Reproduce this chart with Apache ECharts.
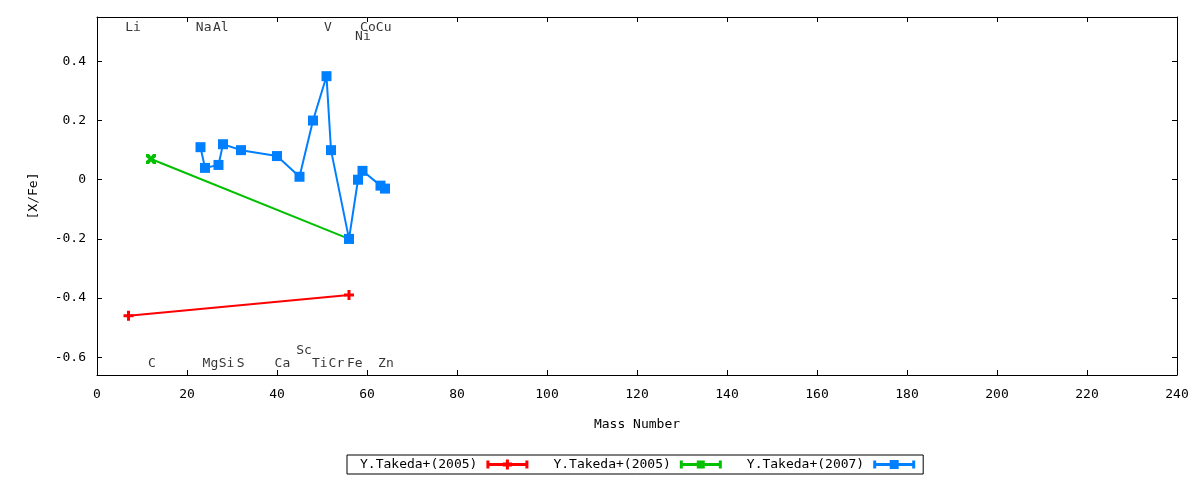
<!DOCTYPE html>
<html>
<head>
<meta charset="utf-8">
<script src="https://cdn.jsdelivr.net/npm/echarts@6/dist/echarts.min.js"></script>
<style>html,body{margin:0;padding:0;background:#fff;}#c{width:1200px;height:480px;}</style>
</head>
<body>
<div id="c"></div>
<script>
// Series data: [mass number, [X/Fe]]
const takeda2005aX = [7, 56];
const takeda2005aY = [-0.46, -0.39];
const takeda2005bX = [12, 56];
const takeda2005bY = [0.07, -0.20];
const takeda2007X = [23, 24, 27, 28, 32, 40, 45, 48, 51, 52, 56, 58, 59, 63, 64];
const takeda2007Y = [0.11, 0.04, 0.05, 0.12, 0.10, 0.08, 0.01, 0.20, 0.35, 0.10, -0.20, 0.00, 0.03, -0.02, -0.03];
const seriesNames = ['Y.Takeda+(2005)', 'Y.Takeda+(2005)', 'Y.Takeda+(2007)'];

// Element labels placed in the plot
const elemNames = ['Li', 'Na', 'Al', 'V', 'Co', 'Ni', 'Cu', 'C', 'Mg', 'Si', 'S', 'Ca', 'Sc', 'Ti', 'Cr', 'Fe', 'Zn'];
const elemX = [8.0, 23.7, 27.5, 51.3, 60.2, 59.1, 63.7, 12.2, 25.2, 28.8, 31.9, 41.2, 46.0, 49.5, 53.2, 57.3, 64.2];
const elemY = [0.515, 0.515, 0.515, 0.515, 0.515, 0.485, 0.515, -0.62, -0.62, -0.62, -0.62, -0.62, -0.578, -0.62, -0.62, -0.62, -0.62];

// Axis ticks
const yTicks = [-0.6, -0.4, -0.2, 0, 0.2, 0.4];

const FONT = 'DejaVu Sans Mono';
const zip = (xs, ys) => xs.map((x, i) => [x, ys[i]]);
const keys = ['s1', 's2', 's3'];
const nameMap = {s1: seriesNames[0], s2: seriesNames[1], s3: seriesNames[2]};

const plusSym = 'path://M3.5,0h3v3.5h3.5v3h-3.5v3.5h-3v-3.5h-3.5v-3h3.5z';
const xSym = 'path://M0,0L3,0L5,2.5L7,0L10,0L10,3L7.5,5L10,7L10,10L7,10L5,7.5L3,10L0,10L0,7L2.5,5L0,3Z';
const caps = 'M0,1h3v8h-3z M39,1h3v8h-3z M0,3.5h42v3h-42z ';
const iconRed = 'path://' + caps + 'M19.5,0h3v10h-3z M16.5,3h9v4h-9z';
const iconGreen = 'path://' + caps + 'M17,1h8v8h-8z';
const iconBlue = 'path://' + caps + 'M16.5,0.5h9v9h-9z';

const colors = ['#ff0000', '#00c000', '#0080ff'];
const symbols = [plusSym, xSym, 'rect'];
const icons = [iconRed, iconGreen, iconBlue];
const datas = [zip(takeda2005aX, takeda2005aY), zip(takeda2005bX, takeda2005bY), zip(takeda2007X, takeda2007Y)];

const lineSeries = keys.map((k, i) => ({
  name: k,
  type: 'line',
  data: datas[i],
  color: colors[i],
  symbol: symbols[i],
  symbolSize: 10,
  showAllSymbol: true,
  lineStyle: {width: 2, color: colors[i]},
  itemStyle: {color: colors[i]},
  animation: false,
  z: 3
}));

const labelSeries = {
  name: 'labels',
  type: 'scatter',
  symbolSize: 0,
  silent: true,
  animation: false,
  data: elemNames.map((n, i) => ({name: n, value: [elemX[i], elemY[i]]})),
  label: {
    show: true, position: 'inside', formatter: p => p.name,
    color: '#000', fontFamily: FONT, fontSize: 13
  },
  z: 4
};

const axisCommon = {
  min: 0, max: 240, interval: 20,
  axisLine: {show: true, onZero: false, lineStyle: {color: '#000', width: 1}},
  splitLine: {show: false}
};

const option = {
  backgroundColor: '#fff',
  animation: false,
  textStyle: {fontFamily: FONT},
  grid: {left: 97, right: 23, top: 17, bottom: 105, containLabel: false},
  legend: {
    data: keys.map((k, i) => ({name: k, icon: icons[i]})),
    formatter: n => nameMap[n],
    left: 347, top: 455,
    align: 'right',
    itemWidth: 42, itemHeight: 10, itemGap: 25,
    padding: [3, 8, 3, 13],
    borderColor: '#000', borderWidth: 1, borderRadius: 0,
    selectedMode: false,
    textStyle: {fontFamily: FONT, fontSize: 13, color: '#000', padding: [0, 4, 0, 0]}
  },
  xAxis: [
    Object.assign({}, axisCommon, {
      type: 'value', position: 'bottom',
      name: 'Mass Number', nameLocation: 'middle', nameGap: 43,
      nameTextStyle: {fontFamily: FONT, fontSize: 13, color: '#000'},
      axisTick: {show: true, inside: true, length: 5, lineStyle: {color: '#000'}},
      axisLabel: {show: true, margin: 13, color: '#000', fontFamily: FONT, fontSize: 13}
    }),
    Object.assign({}, axisCommon, {
      type: 'value', position: 'top',
      axisTick: {show: true, inside: true, length: 5, lineStyle: {color: '#000'}},
      axisLabel: {show: false}
    })
  ],
  yAxis: [
    {
      type: 'value', position: 'left', min: -0.66, max: 0.55,
      name: '[X/Fe]', nameLocation: 'middle', nameGap: 57, nameRotate: 90,
      nameTextStyle: {fontFamily: FONT, fontSize: 13, color: '#000'},
      axisLine: {show: true, onZero: false, lineStyle: {color: '#000', width: 1}},
      splitLine: {show: false},
      axisTick: {show: true, inside: true, length: 5, customValues: yTicks, lineStyle: {color: '#000'}},
      axisLabel: {show: true, margin: 11, customValues: yTicks, color: '#000', fontFamily: FONT, fontSize: 13,
        formatter: v => (Math.abs(v) < 1e-9 ? '0' : v.toFixed(1))}
    },
    {
      type: 'value', position: 'right', min: -0.66, max: 0.55,
      axisLine: {show: true, onZero: false, lineStyle: {color: '#000', width: 1}},
      splitLine: {show: false},
      axisTick: {show: true, inside: true, length: 5, customValues: yTicks, lineStyle: {color: '#000'}},
      axisLabel: {show: false}
    }
  ],
  series: lineSeries.concat([labelSeries])
};

const chart = echarts.init(document.getElementById('c'), null, {renderer: 'canvas'});
chart.setOption(option);
</script>
</body>
</html>
